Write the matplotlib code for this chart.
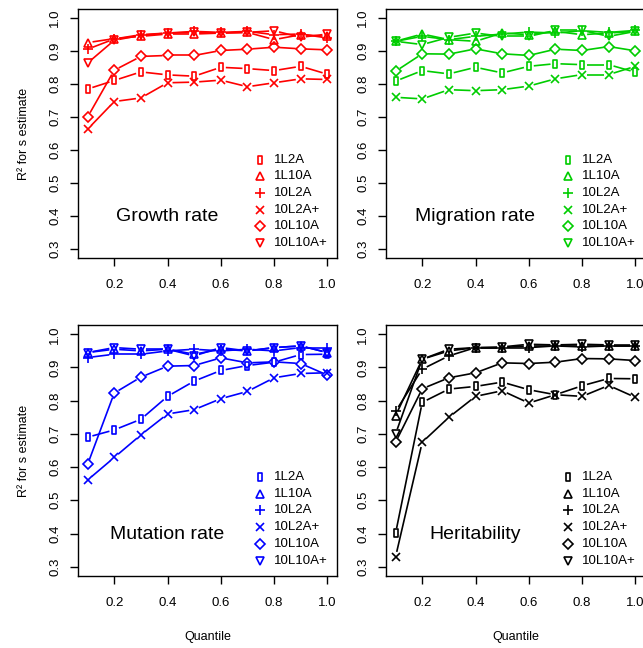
import matplotlib
matplotlib.use("Agg")
import matplotlib.pyplot as plt
from matplotlib.path import Path
import numpy as np

plt.rcParams['font.family'] = ['Liberation Sans', 'DejaVu Sans']

quantiles = [0.1, 0.2, 0.3, 0.4, 0.5, 0.6, 0.7, 0.8, 0.9, 1.0]
labels = ['1L2A', '1L10A', '10L2A', '10L2A+', '10L10A', '10L10A+']

growth = [
    [0.785, 0.811, 0.837, 0.828, 0.824, 0.851, 0.847, 0.841, 0.854, 0.830],
    [0.926, 0.938, 0.945, 0.952, 0.952, 0.955, 0.957, 0.935, 0.950, 0.945],
    [0.906, 0.937, 0.950, 0.955, 0.960, 0.957, 0.960, 0.950, 0.952, 0.940],
    [0.663, 0.747, 0.758, 0.804, 0.806, 0.812, 0.792, 0.804, 0.816, 0.814],
    [0.700, 0.842, 0.884, 0.887, 0.887, 0.902, 0.906, 0.912, 0.907, 0.904],
    [0.864, 0.933, 0.948, 0.955, 0.957, 0.955, 0.957, 0.962, 0.942, 0.952],
]
migration = [
    [0.809, 0.841, 0.831, 0.851, 0.834, 0.854, 0.862, 0.859, 0.859, 0.836],
    [0.930, 0.952, 0.935, 0.930, 0.955, 0.950, 0.960, 0.950, 0.955, 0.960],
    [0.930, 0.945, 0.935, 0.945, 0.952, 0.958, 0.955, 0.962, 0.957, 0.963],
    [0.760, 0.755, 0.783, 0.780, 0.783, 0.794, 0.816, 0.829, 0.829, 0.854],
    [0.839, 0.892, 0.891, 0.907, 0.892, 0.887, 0.906, 0.902, 0.914, 0.901],
    [0.930, 0.920, 0.942, 0.955, 0.945, 0.945, 0.963, 0.963, 0.945, 0.960],
]
mutation = [
    [0.690, 0.712, 0.744, 0.813, 0.859, 0.891, 0.906, 0.916, 0.939, 0.940],
    [0.945, 0.955, 0.950, 0.955, 0.940, 0.955, 0.950, 0.960, 0.965, 0.945],
    [0.930, 0.940, 0.940, 0.950, 0.955, 0.950, 0.955, 0.950, 0.960, 0.960],
    [0.561, 0.629, 0.697, 0.760, 0.773, 0.806, 0.828, 0.869, 0.882, 0.884],
    [0.608, 0.823, 0.871, 0.904, 0.906, 0.929, 0.914, 0.917, 0.912, 0.877],
    [0.945, 0.960, 0.955, 0.955, 0.935, 0.960, 0.950, 0.960, 0.965, 0.945],
]
heritability = [
    [0.401, 0.795, 0.835, 0.843, 0.856, 0.833, 0.818, 0.845, 0.867, 0.866],
    [0.755, 0.925, 0.950, 0.960, 0.960, 0.965, 0.965, 0.965, 0.965, 0.965],
    [0.768, 0.895, 0.935, 0.960, 0.960, 0.960, 0.965, 0.962, 0.965, 0.965],
    [0.330, 0.675, 0.750, 0.813, 0.830, 0.793, 0.818, 0.813, 0.846, 0.810],
    [0.675, 0.836, 0.869, 0.884, 0.914, 0.912, 0.916, 0.927, 0.926, 0.921],
    [0.700, 0.925, 0.955, 0.960, 0.962, 0.970, 0.968, 0.970, 0.968, 0.968],
]

# narrow box like R's pch=0 in the original
box = Path([(-0.22, -0.5), (0.22, -0.5), (0.22, 0.5), (-0.22, 0.5), (-0.22, -0.5)],
           [Path.MOVETO, Path.LINETO, Path.LINETO, Path.LINETO, Path.CLOSEPOLY])
markers = [box, '^', '+', 'x', 'D', 'v']
msizes = [6.0, 5.5, 7, 5.5, 4.6, 5.5]

W, H = 643, 648
fig = plt.figure(figsize=(W / 100, H / 100), dpi=100)

panels = [
    (growth, 'Growth rate', 'red', 78, 9, 249),
    (migration, 'Migration rate', '#00cd00', 386, 9, 249),
    (mutation, 'Mutation rate', 'blue', 78, 325, 251),
    (heritability, 'Heritability', 'black', 386, 325, 251),
]


def type_b(ax, x, y, color, gap=5.0):
    # lines broken around the points, as R's type="b"
    pts = ax.transData.transform(np.column_stack([x, y]))
    inv = ax.transData.inverted()
    for p, q in zip(pts[:-1], pts[1:]):
        d = q - p
        L = np.hypot(*d)
        if L <= 2 * gap:
            continue
        u = d / L
        seg = inv.transform(np.array([p + u * gap, q - u * gap]))
        ax.plot(seg[:, 0], seg[:, 1], color=color, lw=1.2, solid_capstyle='butt')


for k, (data, title, col, left, top, h) in enumerate(panels):
    ax = fig.add_axes([left / W, 1 - (top + h) / H, 259 / W, h / H])
    ax.set_xlim(0.064, 1.036)
    ax.set_ylim(0.272, 1.028)
    for i, vals in enumerate(data):
        type_b(ax, quantiles, vals, col)
        ax.plot(quantiles, vals, ls='none', marker=markers[i], ms=msizes[i],
                mfc='none', mec=col, mew=1.2)
    ax.set_xticks([0.2, 0.4, 0.6, 0.8, 1.0])
    ax.set_xticklabels(['0.2', '0.4', '0.6', '0.8', '1.0'])
    ax.set_yticks([0.3, 0.4, 0.5, 0.6, 0.7, 0.8, 0.9, 1.0])
    ax.set_yticklabels(['0.3', '0.4', '0.5', '0.6', '0.7', '0.8', '0.9', '1.0'],
                       rotation=90, va='center')
    ax.tick_params(direction='out', length=6, width=1, labelsize=9.5)
    ax.tick_params(axis='x', pad=9)
    ax.tick_params(axis='y', pad=6)
    for s in ax.spines.values():
        s.set_linewidth(1)
    ax.text(0.344, 0.165, title, transform=ax.transAxes, fontsize=14,
            ha='center', va='center')
    for i, lab in enumerate(labels):
        yy = 0.395 - i * 0.067
        ax.plot([0.703], [yy], transform=ax.transAxes, ls='none', marker=markers[i],
                ms=msizes[i], mfc='none', mec=col, mew=1.2, clip_on=False)
        ax.text(0.755, yy, lab, transform=ax.transAxes, fontsize=9.5, va='center')
    if k % 2 == 0:
        ax.set_ylabel('R² for s estimate', fontsize=9, labelpad=14)
    if k >= 2:
        ax.set_xlabel('Quantile', fontsize=9, labelpad=16)

fig.savefig('out.png', dpi=100)
